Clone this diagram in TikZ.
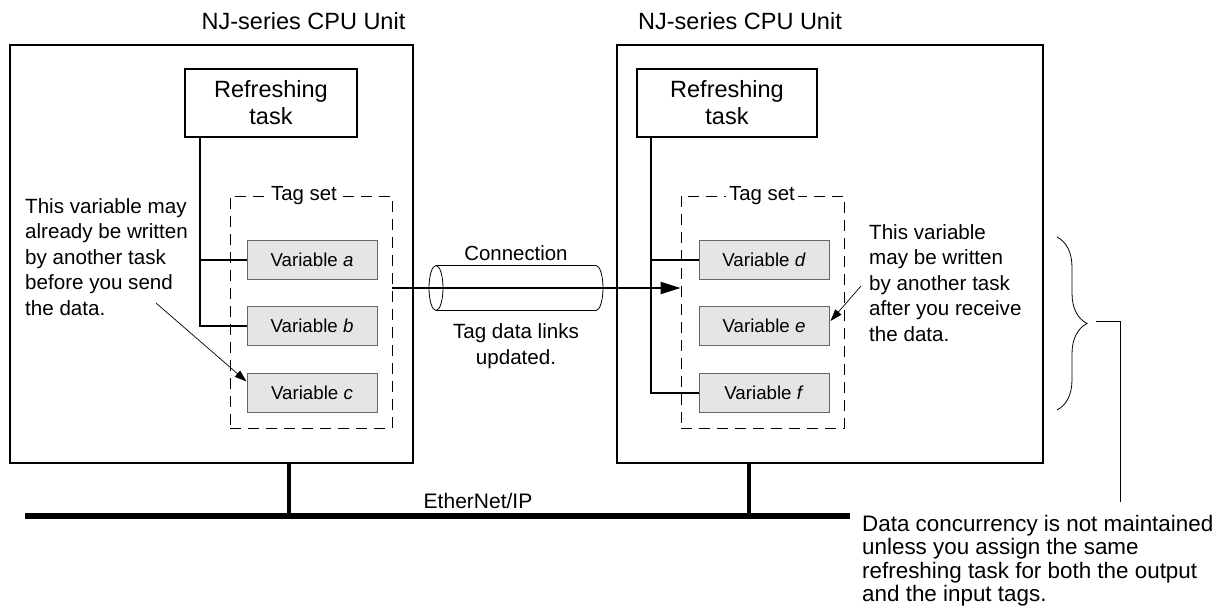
\documentclass[tikz,border=0pt]{standalone}
\usepackage{fontspec}
\setmainfont{Liberation Sans}
\usetikzlibrary{arrows.meta,decorations.pathreplacing,calc}
\begin{document}
\begin{tikzpicture}[x=1pt,y=-1pt,
  cpubox/.style={draw, line width=2.5pt, inner sep=0pt},
  taskbox/.style={draw, line width=2pt, inner sep=0pt, align=center,
    font=\fontsize{23.5}{27}\selectfont},
  varbox/.style={draw=black!60, fill=black!10, line width=1pt, inner sep=0pt,
    minimum width=130pt, minimum height=39pt, font=\fontsize{18.7}{22}\selectfont},
  tagbox/.style={draw, line width=0.9pt, dash pattern=on 11pt off 7pt, inner sep=0pt},
  taglbl/.style={fill=white, inner sep=3pt, font=\fontsize{20.4}{24}\selectfont},
  title/.style={font=\fontsize{23.5}{27}\selectfont},
  note/.style={align=left, inner sep=0pt, font=\fontsize{20.6}{25.5}\selectfont},
  conn/.style={line width=2pt},
  thinarrow/.style={line width=0.7pt, -{Triangle[length=12pt,width=8pt]}},
  thinline/.style={line width=0.8pt}
]
\useasboundingbox (0,0) rectangle (1224,614);

% CPU units
\node[cpubox, minimum width=403pt, minimum height=418pt] (cpuL) at (211.5,254) {};
\node[cpubox, minimum width=426pt, minimum height=418pt] (cpuR) at (830,254) {};
\node[title] (titleL) at (303.5,21) {NJ-series CPU Unit};
\node[title] (titleR) at (740,21) {NJ-series CPU Unit};

% Refreshing tasks
\node[taskbox, minimum width=172pt, minimum height=68pt] (taskL) at (271,103) {Refreshing\\task};
\node[taskbox, minimum width=180pt, minimum height=68pt] (taskR) at (727,103) {Refreshing\\task};

% Tag sets
\node[tagbox, minimum width=162pt, minimum height=232pt] (tagL) at (311,312) {};
\node[tagbox, minimum width=163pt, minimum height=232pt] (tagR) at (762.5,312) {};
\node[taglbl] (tagLlbl) at (304,196) {Tag set};
\node[taglbl] (tagRlbl) at (762,196) {Tag set};

% Variables
\node[varbox] (varA) at (312,259.5) {Variable \textit{a}};
\node[varbox] (varB) at (312,326) {Variable \textit{b}};
\node[varbox] (varC) at (312,392.5) {Variable \textit{c}};
\node[varbox] (varD) at (764,259.5) {Variable \textit{d}};
\node[varbox] (varE) at (764,326) {Variable \textit{e}};
\node[varbox] (varF) at (764,392.5) {Variable \textit{f}};

% Refreshing task connections
\coordinate (tl) at ($(taskL.south west)+(16,0)$);
\coordinate (tr) at ($(taskR.south west)+(15,0)$);
\draw[conn] (tl) |- (varB.west);
\draw[conn] (tl |- varA.west) -- (varA.west);
\draw[conn] (tr) |- (varF.west);
\draw[conn] (tr |- varD.west) -- (varD.west);

% Connection cylinder
\coordinate (cyl) at (516,288);
\draw[thinline] (436,265.5) -- (596,265.5)
  arc[start angle=90, end angle=-90, x radius=7pt, y radius=22.5pt]
  -- (436,310.5);
\draw[thinline] (436,288) ellipse[x radius=7pt, y radius=22.5pt];
\draw[conn, -{Triangle[length=20pt,width=12pt]}] (tagL.east |- cyl) -- (tagR.west |- cyl);
\node[taglbl, fill=none] (connlbl) at (516,253) {Connection};
\node[note, align=center] (updlbl) at (516,346) {Tag data links\\updated.};

% Annotations
\node[note, anchor=west] (noteL) at (25,257) {This variable may\\already be written\\by another task\\before you send\\the data.};
\coordinate (nL) at (156,303);
\draw[thinarrow] (nL) -- ($(varC.north west)+(0,9)$);
\node[note, anchor=west] (noteR) at (869,283) {This variable\\may be written\\by another task\\after you receive\\the data.};
\coordinate (nR) at (861,286);
\draw[thinarrow] (nR) -- ($(varE.north east)+(1,15)$);

% Brace and bottom note
\coordinate (brT) at (1057,237);
\coordinate (brB) at (1057,410);
\draw[thinline, decorate, decoration={brace, amplitude=30pt}] (brT) -- (brB);
\coordinate (bt) at (1096,321);
\coordinate (be) at (1120,502);
\draw[thinline] (bt) -| (be);
\node[note, anchor=north west, font=\fontsize{22.4}{23.5}\selectfont] (noteB) at (862,515)
  {Data concurrency is not maintained\\unless you assign the same\\refreshing task for both the output\\and the input tags.};

% EtherNet/IP
\coordinate (ethL) at (25,516);
\coordinate (ethR) at (850,516);
\coordinate (dropL) at (289,516);
\coordinate (dropR) at (749,516);
\draw[line width=4pt] (cpuL.south -| dropL) -- (dropL);
\draw[line width=4pt] (cpuR.south -| dropR) -- (dropR);
\draw[line width=5.5pt] (ethL) -- (ethR);
\node[font=\fontsize{21}{24}\selectfont] (ethlbl) at (478,501) {EtherNet/IP};
\end{tikzpicture}
\end{document}
